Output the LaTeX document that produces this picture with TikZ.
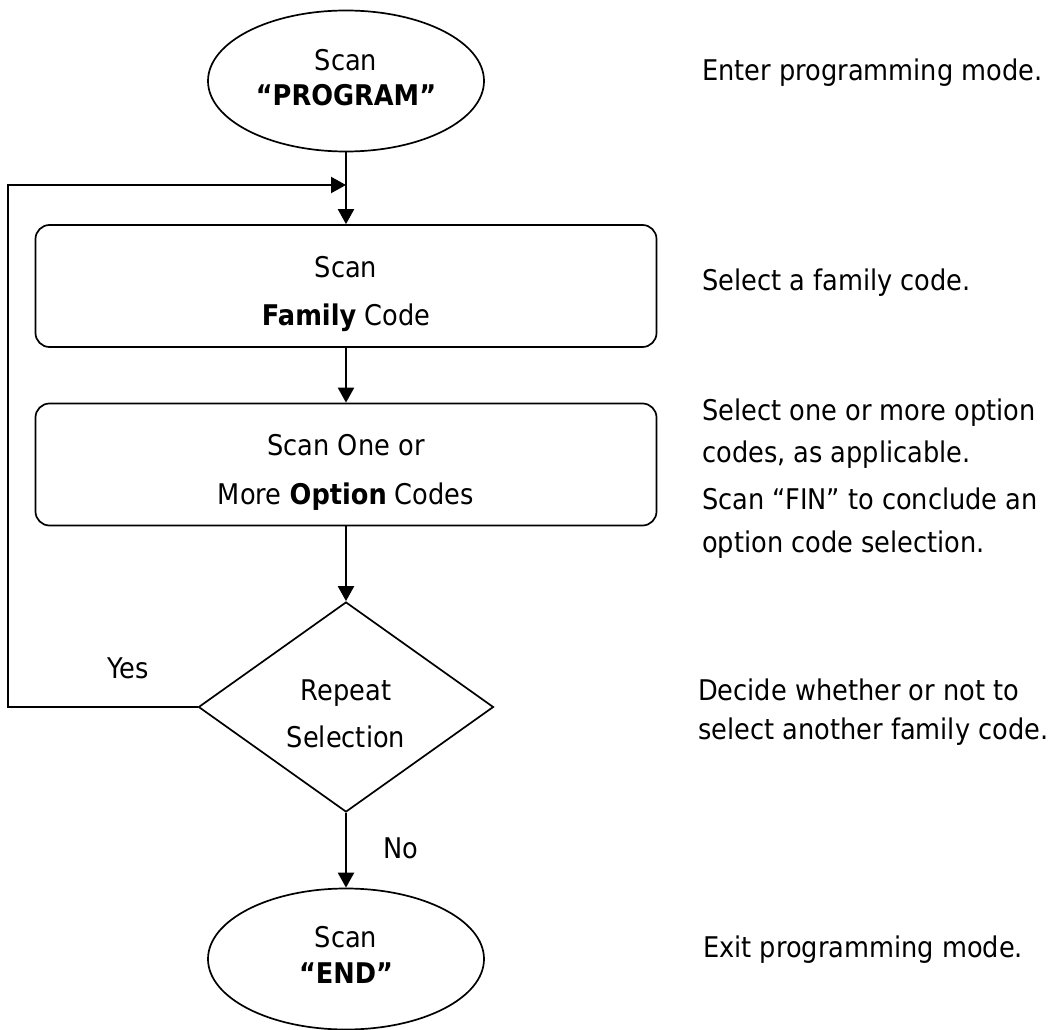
\documentclass[tikz,border=0pt]{standalone}
\usepackage{fontspec}
\setmainfont{DejaVu Sans}[FakeStretch=0.9]
\usetikzlibrary{shapes.geometric,arrows.meta}
\begin{document}
\begin{tikzpicture}[x=1pt,y=-1pt,
  shapeline/.style={draw=black,line width=1.7pt},
  term/.style={shapeline,ellipse,minimum width=276pt,minimum height=141pt,inner sep=0pt},
  procbox/.style={shapeline,rectangle,rounded corners=14pt,minimum width=621pt,minimum height=122pt,inner sep=0pt},
  decision/.style={shapeline,diamond,aspect=1.4,minimum width=295pt,minimum height=210pt,inner sep=0pt},
  txt/.style={inner sep=0pt,align=center},
  note/.style={inner sep=0pt,align=left,anchor=west},
  conn/.style={line width=2.2pt,-{Triangle[length=15pt,width=16pt]}},
]
\useasboundingbox (0,0) rectangle (1063,1030);

% shapes
\node[term] (prog) at (346,81) {};
\node[procbox] (fam) at (346,286) {};
\node[procbox] (opt) at (346,464.5) {};
\node[decision] (rep) at (346,707) {};
\node[term] (end) at (346,959) {};

% texts inside shapes
\node[txt,font=\fontsize{28.5pt}{35.5pt}\selectfont] (progt) at (346,77.5) {Scan\\\textbf{“PROGRAM”}};
\node[txt,font=\fontsize{28.5pt}{48pt}\selectfont] (famt) at (346,294) {Scan\\\textbf{Family} Code};
\node[txt,font=\fontsize{28.5pt}{49pt}\selectfont] (optt) at (346,472.5) {Scan One or\\More \textbf{Option} Codes};
\node[txt,font=\fontsize{28.5pt}{47pt}\selectfont] (rept) at (346,713.5) {Repeat\\Selection};
\node[txt,font=\fontsize{28.5pt}{36pt}\selectfont] (endt) at (346,955) {Scan\\\textbf{“END”}};

% connectors
\draw[conn] (prog) -- (fam);
\draw[conn] (fam) -- (opt);
\draw[conn] (opt) -- (rep);
\draw[conn] (rep) -- (end);
\coordinate (loopcorner) at (8,185);
\coordinate (loopin) at (346,185);
\draw[conn] (rep.west) -| (loopcorner) -- (loopin);

% branch labels
\node[txt,font=\fontsize{28.5pt}{34pt}\selectfont] (yes) at (128,668) {Yes};
\node[txt,font=\fontsize{28.5pt}{34pt}\selectfont] (no) at (401,848) {No};

% side notes
\node[note,font=\fontsize{28.5pt}{34pt}\selectfont] (n1) at (702,73) {Enter programming mode.};
\node[note,font=\fontsize{28.5pt}{34pt}\selectfont] (n2) at (702,283) {Select a family code.};
\node[note,font=\fontsize{28.5pt}{42pt}\selectfont] (n3) at (702,434) {Select one or more option\\codes, as applicable.};
\node[note,font=\fontsize{28.5pt}{43pt}\selectfont] (n4) at (702,523.5) {Scan “FIN” to conclude an\\option code selection.};
\node[note,font=\fontsize{28.5pt}{39pt}\selectfont] (n5) at (698,712.5) {Decide whether or not to\\select another family code.};
\node[note,font=\fontsize{28.5pt}{34pt}\selectfont] (n6) at (703,950) {Exit programming mode.};
\end{tikzpicture}
\end{document}
